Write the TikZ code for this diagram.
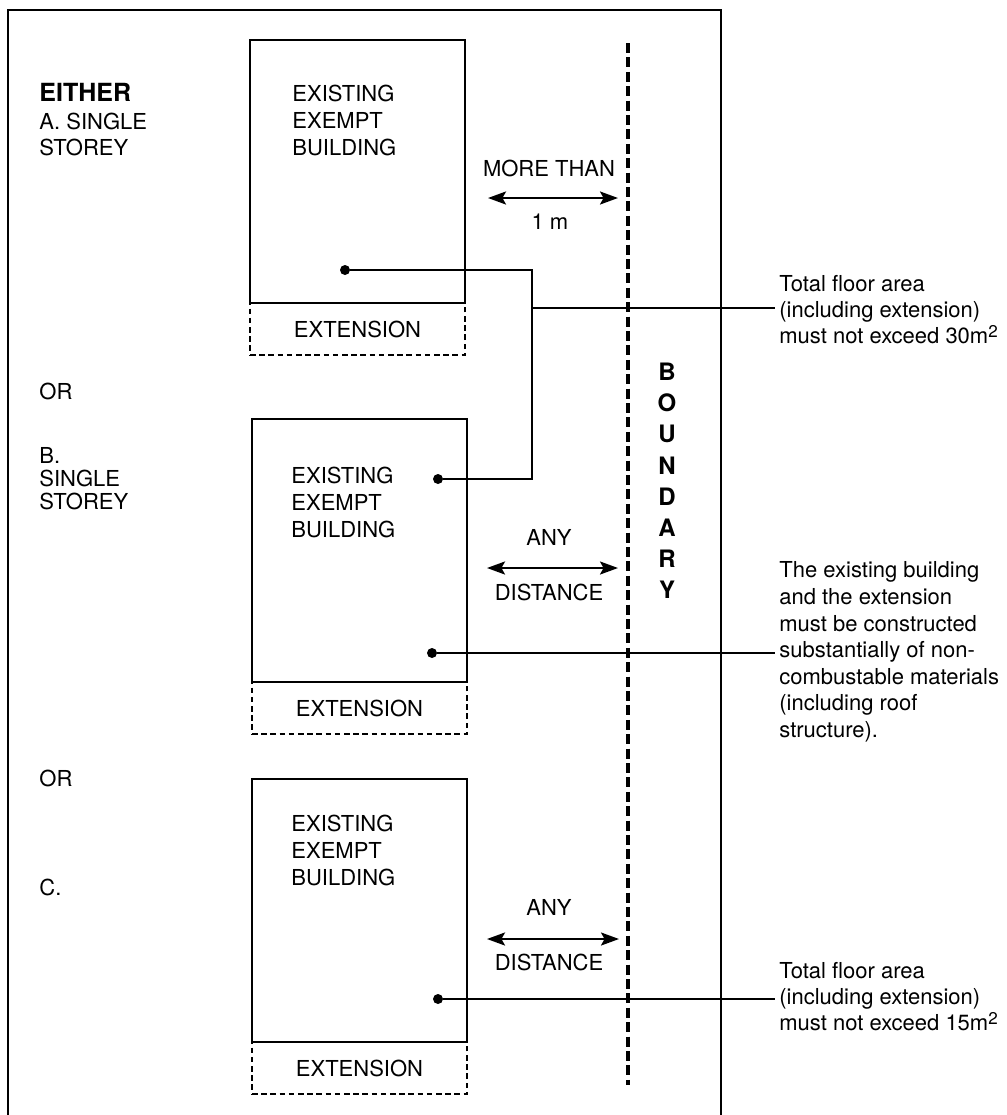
\documentclass[tikz,border=0pt]{standalone}
\usepackage{fontspec}
\setmainfont{TeX Gyre Heros}
\usetikzlibrary{arrows.meta, positioning, calc}
\newcommand{\sqm}{m\raisebox{0.55ex}{\fontsize{8.5}{9}\selectfont 2}}
\tikzset{outer frame/.style={line width=1.1pt}}
\tikzset{building/.style={draw, line width=1.3pt, minimum width=107.5pt, minimum height=131.5pt, inner sep=0pt, outer sep=0pt, anchor=north west}}
\tikzset{extension/.style={draw, line width=0.9pt, dash pattern=on 2.8pt off 1.8pt, minimum width=107.5pt, minimum height=26pt, inner sep=0pt, outer sep=0pt, font=\fontsize{11}{13}\selectfont}}
\tikzset{bldtext/.style={align=left, inner sep=0pt, anchor=north west, font=\fontsize{11}{13.5}\selectfont}}
\tikzset{caption/.style={align=left, inner sep=0pt, anchor=north west, font=\fontsize{11}{13}\selectfont}}
\tikzset{remark/.style={align=left, inner sep=2pt, anchor=west, font=\fontsize{11}{13}\selectfont}}
\tikzset{gaptext/.style={inner sep=0pt, font=\fontsize{11}{13}\selectfont}}
\tikzset{gap arrow/.style={line width=1.2pt, {Stealth[length=9pt,width=6.5pt,inset=1.8pt]}-{Stealth[length=9pt,width=6.5pt,inset=1.8pt]}}}
\tikzset{boundary line/.style={line width=2.4pt, dash pattern=on 5pt off 2.2pt}}
\tikzset{leader/.style={line width=1pt}}
\tikzset{leader dot/.style={circle, fill, inner sep=0pt, minimum size=5pt}}

\begin{document}
\begin{tikzpicture}[x=0.5pt, y=-0.5pt]
\useasboundingbox (0,0) rectangle (1007,1115);

\draw[outer frame] (8,1115) |- (721,10) -- (721,1115);

% the three cases
\node[building] (bldA) at (250,40) {};
\node[extension, below=0pt of bldA] (extA) {EXTENSION};
\node[building] (bldB) at (252,419) {};
\node[extension, below=0pt of bldB] (extB) {EXTENSION};
\node[building] (bldC) at (252,779) {};
\node[extension, below=0pt of bldC] (extC) {EXTENSION};

\node[bldtext] (txtA) at (292,85) {EXISTING\\EXEMPT\\BUILDING};
\node[bldtext] (txtB) at (291,467) {EXISTING\\EXEMPT\\BUILDING};
\node[bldtext] (txtC) at (291,815) {EXISTING\\EXEMPT\\BUILDING};

\node[caption, font=\fontsize{12.5}{14}\bfseries] (either) at (39,83) {EITHER};
\node[caption] (caseA) at (39,113) {A. SINGLE\\STOREY};
\node[caption] (orA) at (39,383) {OR};
\node[caption, font=\fontsize{11}{11.5}\selectfont] (caseB) at (39,447) {B.\\SINGLE\\STOREY};
\node[caption] (orB) at (39,770) {OR};
\node[caption] (caseC) at (39,879) {C.};

% boundary
\coordinate (bndTop) at (628,43);
\coordinate (bndBot) at (628,1085);
\draw[boundary line] (bndTop) -- (bndBot);
\node[align=center, inner sep=0pt, font=\fontsize{12}{15.6}\bfseries] (bnd) at (667,481) {B\\O\\U\\N\\D\\A\\R\\Y};

% distances
\coordinate (gapA1) at (488,198);
\coordinate (gapA2) at (618,198);
\draw[gap arrow] (gapA1) -- (gapA2);
\node[gaptext] (moreA) at (549,168) {MORE THAN};
\node[gaptext] (oneA) at (550,222) {1 m};

\coordinate (gapB1) at (487,568);
\coordinate (gapB2) at (618,568);
\draw[gap arrow] (gapB1) -- (gapB2);
\node[gaptext] (anyB) at (549,537) {ANY};
\node[gaptext] (distB) at (549,592) {DISTANCE};

\coordinate (gapC1) at (487,939);
\coordinate (gapC2) at (619,939);
\draw[gap arrow] (gapC1) -- (gapC2);
\node[gaptext] (anyC) at (549,907) {ANY};
\node[gaptext] (distC) at (549,962) {DISTANCE};

% notes
\node[remark] (noteA) at (775,310) {Total floor area\\(including extension)\\must not exceed 30\sqm};
\node[remark, font=\fontsize{11}{13.3}\selectfont] (noteB) at (775,652) {The existing building\\and the extension\\must be constructed\\substantially of non-\\combustable materials\\(including roof\\structure).};
\node[remark] (noteC) at (775,997) {Total floor area\\(including extension)\\must not exceed 15\sqm};

\node[leader dot] (dA) at (345,270) {};
\node[leader dot] (dB1) at (438,479) {};
\node[leader dot] (dB2) at (432,653) {};
\node[leader dot] (dC) at (438,999) {};
\coordinate (jA) at (532,308);

\draw[leader] (dA) -| (jA) |- (dB1);
\draw[leader] (jA) -- (jA -| noteA.west);
\draw[leader] (dB2) -- (dB2 -| noteB.west);
\draw[leader] (dC) -- (dC -| noteC.west);

\end{tikzpicture}
\end{document}
